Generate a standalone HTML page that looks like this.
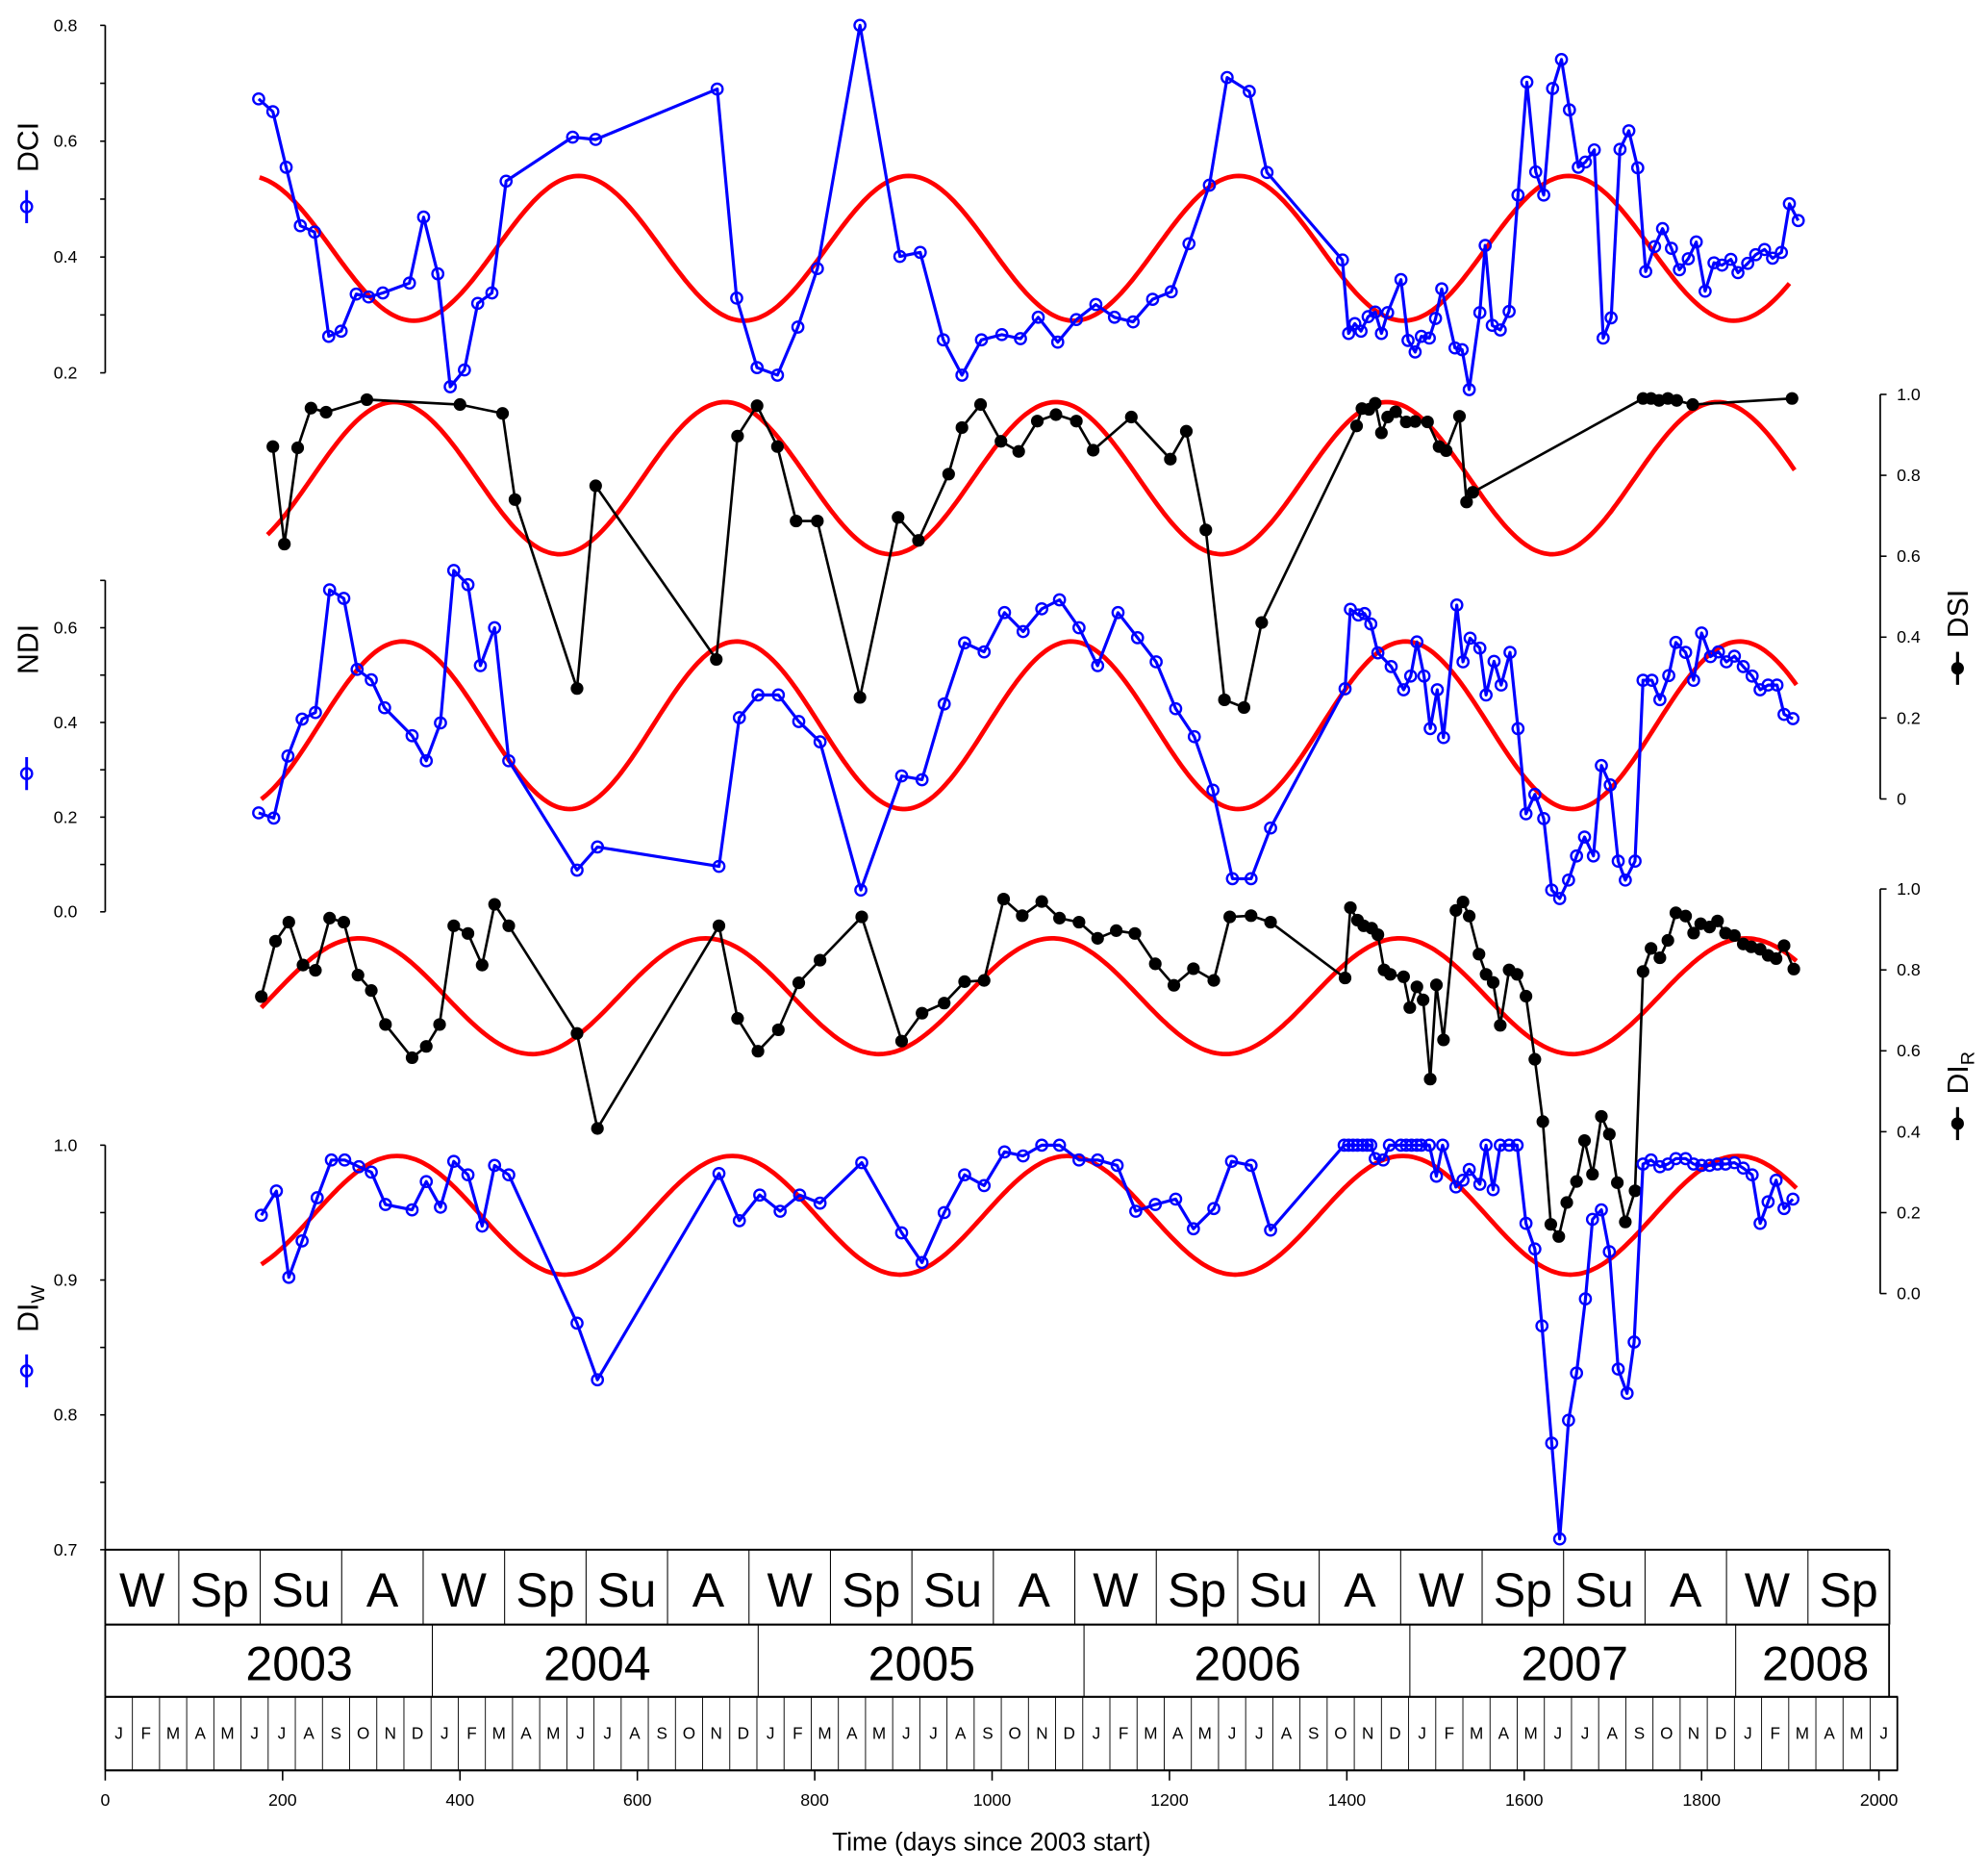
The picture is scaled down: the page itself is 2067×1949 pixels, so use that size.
<!DOCTYPE html>
<html><head><meta charset="utf-8"><title>Drought indices time series</title>
<style>
html,body{margin:0;padding:0;background:#fff;}
svg{display:block;font-family:"Liberation Sans",sans-serif;}
</style></head>
<body>
<svg id="chart" xmlns="http://www.w3.org/2000/svg" width="2067" height="1949" viewBox="0 0 1568 1478.5">
<rect x="0" y="0" width="1568" height="1478.5" fill="#fff"/>
</svg>
<script>
// ---- DATA ----
const dciDays=[173,189,204,220,236,252,266,283,297,313,343,359,375,389,405,420,436,452,527,553,690,712,735,758,781,803,851,896,919,945,966,988,1011,1032,1052,1074,1095,1117,1138,1159,1181,1202,1222,1245,1265,1290,1310,1395,1402,1409,1416,1424,1432,1439,1446,1461,1469,1477,1484,1493,1500,1507,1522,1530,1538,1550,1556,1564,1573,1583,1593,1603,1613,1622,1632,1642,1651,1661,1669,1679,1689,1698,1708,1718,1728,1737,1747,1756,1766,1775,1785,1794,1804,1814,1823,1833,1841,1852,1861,1871,1880,1890,1899,1909];
const dciValues=[.673,.651,.555,.454,.443,.263,.272,.336,.331,.338,.355,.469,.371,.176,.205,.320,.338,.531,.607,.603,.690,.329,.209,.196,.279,.380,.800,.401,.408,.257,.196,.257,.266,.259,.296,.253,.292,.318,.296,.288,.327,.340,.423,.524,.710,.686,.546,.395,.268,.285,.272,.297,.305,.268,.304,.361,.256,.236,.263,.260,.294,.345,.243,.240,.171,.304,.420,.282,.274,.306,.507,.702,.547,.507,.691,.741,.654,.555,.564,.585,.260,.295,.586,.618,.554,.375,.418,.449,.415,.378,.397,.426,.341,.390,.386,.396,.373,.389,.404,.413,.398,.408,.492,.463];

const dsiDays=[189,202,217,232,249,295,400,448,462,532,553,689,713,735,758,779,803,851,894,917,951,966,987,1010,1030,1051,1072,1095,1114,1157,1201,1219,1241,1262,1284,1304,1411,1417,1425,1432,1439,1446,1455,1467,1477,1491,1504,1512,1527,1535,1542,1734,1743,1752,1762,1772,1790,1902];
const dsiValues=[.871,.630,.868,.966,.956,.987,.975,.953,.740,.273,.774,.345,.897,.972,.871,.687,.687,.251,.696,.639,.803,.918,.975,.884,.859,.934,.950,.934,.862,.944,.840,.909,.665,.245,.226,.436,.922,.965,.963,.978,.905,.944,.957,.932,.933,.932,.871,.861,.946,.734,.758,.990,.990,.985,.990,.985,.975,.990];

const ndiDays=[173,190,206,222,237,253,269,284,300,315,346,362,378,393,409,423,439,455,532,555,692,715,736,759,782,806,852,898,921,946,969,991,1014,1035,1056,1076,1098,1119,1142,1164,1185,1207,1228,1249,1271,1292,1314,1398,1404,1413,1420,1427,1435,1450,1464,1472,1479,1487,1494,1502,1509,1524,1531,1539,1550,1557,1566,1574,1584,1593,1602,1612,1622,1631,1640,1650,1659,1668,1678,1687,1697,1706,1714,1725,1734,1744,1753,1763,1771,1782,1791,1800,1810,1819,1828,1837,1847,1857,1866,1875,1885,1893,1903];
const ndiValues=[.209,.198,.329,.407,.421,.680,.662,.512,.490,.431,.372,.319,.399,.721,.691,.520,.600,.319,.088,.137,.096,.410,.458,.458,.402,.359,.046,.287,.279,.439,.568,.549,.632,.592,.640,.659,.600,.520,.632,.579,.528,.429,.370,.257,.070,.070,.177,.471,.639,.627,.630,.608,.547,.518,.469,.498,.570,.498,.387,.469,.368,.648,.528,.578,.557,.458,.529,.479,.548,.387,.207,.248,.197,.046,.028,.067,.118,.158,.118,.309,.268,.107,.067,.107,.489,.489,.448,.499,.569,.548,.489,.589,.539,.549,.528,.540,.518,.498,.469,.479,.479,.417,.408];

const dirDays=[176,192,207,223,237,253,269,285,300,316,346,362,377,393,409,425,439,455,532,555,692,713,736,759,782,806,853,898,921,946,969,991,1013,1034,1056,1076,1098,1119,1140,1161,1184,1205,1227,1250,1268,1292,1314,1398,1404,1412,1419,1428,1435,1442,1449,1464,1471,1479,1486,1494,1501,1509,1523,1531,1538,1549,1557,1565,1573,1583,1592,1602,1612,1621,1630,1639,1648,1659,1668,1677,1687,1696,1705,1714,1725,1734,1743,1753,1762,1771,1782,1791,1799,1809,1818,1827,1837,1847,1856,1866,1875,1884,1893,1904];
const dirValues=[.734,.871,.918,.812,.799,.928,.918,.787,.749,.665,.583,.611,.665,.909,.890,.812,.962,.909,.643,.408,.909,.680,.599,.652,.768,.824,.931,.624,.693,.718,.771,.774,.975,.934,.969,.928,.918,.878,.897,.890,.815,.762,.803,.774,.931,.934,.918,.780,.954,.923,.909,.903,.887,.800,.789,.783,.707,.758,.726,.530,.763,.627,.947,.968,.933,.839,.789,.769,.663,.800,.789,.735,.579,.425,.171,.141,.225,.277,.378,.295,.438,.394,.274,.177,.254,.796,.853,.830,.873,.941,.933,.891,.914,.906,.921,.891,.885,.864,.857,.851,.836,.828,.860,.802];

const diwDays=[176,193,207,222,239,255,270,286,300,316,346,362,378,393,409,425,439,455,532,555,692,715,738,761,783,806,853,898,921,946,969,991,1014,1035,1056,1076,1098,1119,1141,1162,1184,1207,1227,1250,1270,1292,1314,1397,1402,1407,1412,1418,1423,1427,1432,1441,1448,1461,1467,1473,1479,1484,1493,1501,1508,1523,1531,1538,1550,1557,1565,1573,1583,1592,1602,1612,1620,1631,1640,1650,1659,1669,1677,1687,1696,1706,1716,1724,1734,1743,1753,1762,1771,1782,1791,1800,1809,1818,1827,1837,1847,1857,1866,1875,1884,1893,1903];
const diwValues=[.948,.966,.902,.929,.961,.989,.989,.984,.980,.956,.952,.973,.954,.988,.978,.940,.985,.978,.868,.826,.979,.944,.963,.951,.963,.957,.987,.935,.913,.950,.978,.970,.995,.992,1.0,1.0,.989,.989,.985,.951,.956,.960,.938,.953,.988,.985,.937,1.0,1.0,1.0,1.0,1.0,1.0,1.0,.990,.989,1.0,1.0,1.0,1.0,1.0,1.0,1.0,.977,1.0,.969,.974,.982,.971,1.0,.967,1.0,1.0,1.0,.942,.923,.866,.779,.708,.796,.831,.886,.945,.952,.921,.834,.816,.854,.986,.989,.984,.986,.990,.990,.986,.985,.985,.986,.986,.987,.983,.978,.942,.958,.974,.953,.960];

// fitted seasonal curves (series order: DCI, DSI, NDI, DIR, DIW)
const fitMean=[0.415,0.793,0.394,0.735,0.948];
const fitAmp=[0.125,0.188,0.177,0.143,0.044];
const fitPeakDay=[1650,1818,1843,1850,1841];
const fitPeriod=[372,373,377,391,378];
const fitStart=[174,183,176,176,176];
const fitEnd=[1901,1907,1907,1907,1907];

const xTicks=[0,200,400,600,800,1000,1200,1400,1600,1800,2000];
const seasonLabels=["W","Sp","Su","A","W","Sp","Su","A","W","Sp","Su","A","W","Sp","Su","A","W","Sp","Su","A","W","Sp"];
const yearLabels=["2003","2004","2005","2006","2007","2008"];
const monthLabels=["J","F","M","A","M","J","J","A","S","O","N","D"];

// ---- LAYOUT ----
const svg=document.getElementById('chart');
const NS='http://www.w3.org/2000/svg';
function X(d){return 83+d*0.6995;}
function mk(tag,attrs,parent){const e=document.createElementNS(NS,tag);for(const k in attrs)e.setAttribute(k,attrs[k]);(parent||svg).appendChild(e);return e;}
function scale(v0,p0,v1,p1){return v=>p0+(v-v0)*(p1-p0)/(v1-v0);}
const yDCI=scale(0.2,294,0.8,20), yDSI=scale(0,630,1,311), yNDI=scale(0,719,0.6,495), yDIR=scale(0,1020,1,701), yDIW=scale(0.7,1222,1.0,903);
const yFns=[yDCI,yDSI,yNDI,yDIR,yDIW];

function leftAxis(name,yf,v0,v1,step,labelStep,fmt){
  const g=mk('g',{});
  
  
  mk('line',{x1:83,x2:83,y1:yf(v0),y2:yf(v1),stroke:'#000','stroke-width':1.3},g);
  const n=Math.round((v1-v0)/step);
  for(let i=0;i<=n;i++){const v=v0+i*step,y=yf(v);
    mk('line',{x1:79,x2:83,y1:y,y2:y,stroke:'#000','stroke-width':1.2},g);
    if(Math.abs(Math.round((v-v0)/labelStep)*labelStep-(v-v0))<1e-6){
      const t=mk('text',{x:61,y:y+4.5,'text-anchor':'end','font-size':13.5,fill:'#000'},g);t.textContent=fmt(v);}
  }
}
function rightAxis(name,yf,zeroLabel){
  const g=mk('g',{});
  
  
  mk('line',{x1:1483,x2:1483,y1:yf(0),y2:yf(1),stroke:'#000','stroke-width':1.3},g);
  for(let i=0;i<=5;i++){const v=i*0.2,y=yf(v);
    mk('line',{x1:1483,x2:1488,y1:y,y2:y,stroke:'#000','stroke-width':1.2},g);
    const t=mk('text',{x:1496,y:y+4.5,'font-size':13.5,fill:'#000'},g);t.textContent=i===0?zeroLabel:v.toFixed(1);}
}
leftAxis('dci-y-axis',yDCI,0.2,0.8,0.1,0.2,v=>v.toFixed(1));
leftAxis('ndi-y-axis',yNDI,0.0,0.7,0.1,0.2,v=>v.toFixed(1));
leftAxis('diw-y-axis',yDIW,0.7,1.0,0.05,0.1,v=>v.toFixed(1));
rightAxis('dsi-y-axis',yDSI,'0');
rightAxis('dir-y-axis',yDIR,'0.0');

function title(name,x,y,main,sub){
  const t=mk('text',{x:0,y:0,transform:`translate(${x},${y}) rotate(-90)`,'text-anchor':'middle','font-size':23,fill:'#000'});
  
  
  t.textContent=main;
  if(sub){const s=mk('tspan',{'font-size':15,dy:5},t);s.textContent=sub;}
}
function keyBlue(name,x,y){const g=mk('g',{});
  mk('line',{x1:x,x2:x,y1:y-13,y2:y+13,stroke:'#0000ff','stroke-width':2.2},g);
  mk('circle',{cx:x,cy:y,r:4.3,fill:'none',stroke:'#0000ff','stroke-width':1.8},g);}
function keyBlack(name,x,y){const g=mk('g',{});
  mk('line',{x1:x,x2:x,y1:y-13,y2:y+13,stroke:'#000','stroke-width':2.4},g);
  mk('circle',{cx:x,cy:y,r:5,fill:'#000'},g);}
title('dci-axis-title',30,116,'DCI');keyBlue('dci-legend-key',21,163);
title('ndi-axis-title',30,512,'NDI');keyBlue('ndi-legend-key',21,610);
title('diw-axis-title',30,1032,'DI','W');keyBlue('diw-legend-key',21,1081);
title('dsi-axis-title',1552,484,'DSI');keyBlack('dsi-legend-key',1544,527);
title('dir-axis-title',1552,846,'DI','R');keyBlack('dir-legend-key',1544,886);

const fitNames=['dci-seasonal-fit','dsi-seasonal-fit','ndi-seasonal-fit','dir-seasonal-fit','diw-seasonal-fit'];
for(let s=0;s<5;s++){
  let p='';
  for(let d=fitStart[s];d<=fitEnd[s];d+=3){
    const v=fitMean[s]+fitAmp[s]*Math.cos(2*Math.PI*(d-fitPeakDay[s])/fitPeriod[s]);
    p+=(p?'L':'M')+X(d).toFixed(1)+','+yFns[s](v).toFixed(1);
  }
  const e=mk('path',{d:p,fill:'none',stroke:'#ff0000','stroke-width':3.6});
  
  
}

function series(name,days,vals,yf,blue){
  const g=mk('g',{});
  
  
  const col=blue?'#0000ff':'#000';
  let p='';
  for(let i=0;i<days.length;i++)p+=(i?'L':'M')+X(days[i]).toFixed(1)+','+yf(vals[i]).toFixed(1);
  mk('path',{d:p,fill:'none',stroke:col,'stroke-width':blue?2.4:2,'stroke-linejoin':'round'},g);
  for(let i=0;i<days.length;i++){
    const c=blue?mk('circle',{cx:X(days[i]),cy:yf(vals[i]),r:4.3,fill:'none',stroke:col,'stroke-width':1.8},g)
               :mk('circle',{cx:X(days[i]),cy:yf(vals[i]),r:5,fill:col},g);
    
    
  }
}
series('dci-series',dciDays,dciValues,yDCI,true);
series('dsi-series',dsiDays,dsiValues,yDSI,false);
series('ndi-series',ndiDays,ndiValues,yNDI,true);
series('dir-series',dirDays,dirValues,yDIR,false);
series('diw-series',diwDays,diwValues,yDIW,true);

const cal=mk('g',{});


mk('line',{x1:83,x2:1490,y1:1222,y2:1222,stroke:'#000','stroke-width':1.6},cal);
mk('line',{x1:83,x2:1490,y1:1281,y2:1281,stroke:'#000','stroke-width':1.6},cal);
mk('line',{x1:83,x2:1497,y1:1338,y2:1338,stroke:'#000','stroke-width':1.6},cal);
mk('line',{x1:83,x2:1497,y1:1396,y2:1396,stroke:'#000','stroke-width':1.6},cal);
let sx=[83,141];for(let i=2;i<=seasonLabels.length;i++)sx.push(141+(i-1)*64.25);
sx.forEach((x,i)=>mk('line',{x1:x,x2:x,y1:1222,y2:1281,stroke:'#000','stroke-width':(i===0||i===sx.length-1)?1.4:0.8},cal));
seasonLabels.forEach((s,i)=>{const t=mk('text',{x:(sx[i]+sx[i+1])/2,y:1267,'text-anchor':'middle','font-size':38,fill:'#000'},cal);
  t.textContent=s;});
const yx=[83,341,598,855,1112,1369,1490];
yx.forEach((x,i)=>mk('line',{x1:x,x2:x,y1:1281,y2:1338,stroke:'#000','stroke-width':(i===0||i===yx.length-1)?1.4:0.8},cal));
const yearTextX=[236,471,727,984,1242,1432];
yearLabels.forEach((s,i)=>{const t=mk('text',{x:yearTextX[i],y:1325,'text-anchor':'middle','font-size':38,fill:'#000'},cal);
  t.textContent=s;});
const mw=257/12;
for(let i=0;i<=66;i++){const x=83+i*mw;mk('line',{x1:x,x2:x,y1:1338,y2:1396,stroke:'#000','stroke-width':(i===0||i===66)?1.4:0.7},cal);}
for(let i=0;i<66;i++){const t=mk('text',{x:83+(i+0.5)*mw,y:1371,'text-anchor':'middle','font-size':13,fill:'#000'},cal);
  t.textContent=monthLabels[i%12];}

const xa=mk('g',{});


mk('line',{x1:X(0),x2:X(2000),y1:1396,y2:1396,stroke:'#000','stroke-width':1.3},xa);
xTicks.forEach(v=>{mk('line',{x1:X(v),x2:X(v),y1:1396,y2:1404,stroke:'#000','stroke-width':1.2},xa);
  const t=mk('text',{x:X(v),y:1424,'text-anchor':'middle','font-size':13.5,fill:'#000'},xa);t.textContent=v;});
const xt=mk('text',{x:782,y:1459,'text-anchor':'middle','font-size':20,fill:'#000'});


xt.textContent='Time (days since 2003 start)';
</script>
</body></html>
